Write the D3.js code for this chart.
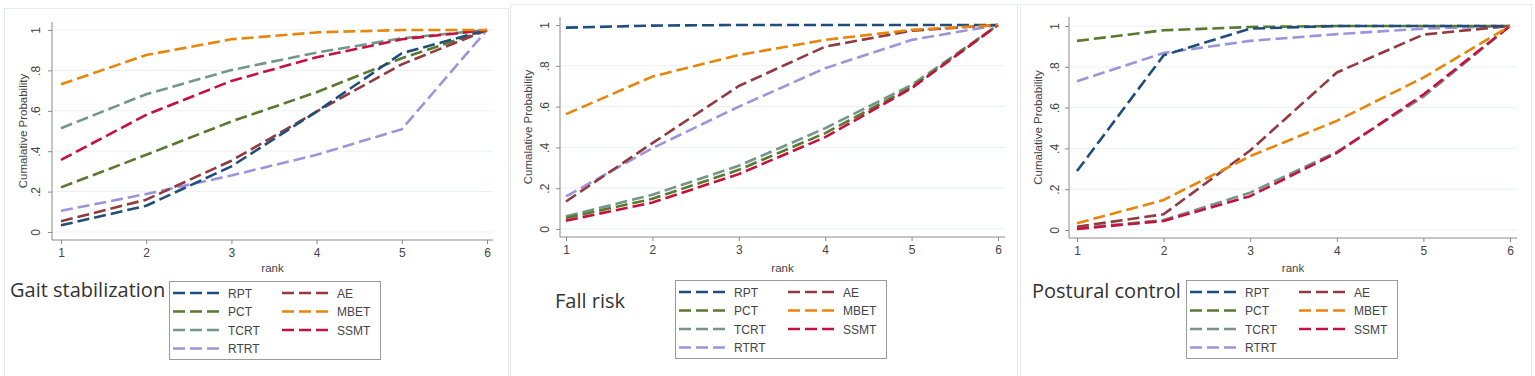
<!DOCTYPE html>
<html>
<head>
<meta charset="utf-8">
<script src="https://cdn.jsdelivr.net/npm/d3@7"></script>
<style>
  html, body { margin: 0; padding: 0; background: #ffffff; }
  svg { display: block; }
</style>
</head>
<body>
<svg id="chart" width="1535" height="376"></svg>
<script>
// ---------- DATA ----------
const ranks = [1, 2, 3, 4, 5, 6];
const yTicks = [0, 0.2, 0.4, 0.6, 0.8, 1];
const yTickLabels = ["0", ".2", ".4", ".6", ".8", "1"];
const seriesNames = ["RPT", "AE", "PCT", "MBET", "TCRT", "SSMT", "RTRT"];
const seriesColors = ["#1f4e7a", "#93393f", "#58792f", "#e8850a", "#74958a", "#c8103d", "#9c95dc"];
const panelTitles = ["Gait stabilization", "Fall risk", "Postural control"];
const yAxisTitle = "Cumalative Probability";
const xAxisTitle = "rank";

// Gait stabilization
const gaitRPT  = [0.033, 0.13, 0.325, 0.596, 0.885, 1];
const gaitAE   = [0.053, 0.16, 0.353, 0.596, 0.83, 1];
const gaitPCT  = [0.221, 0.382, 0.547, 0.692, 0.86, 1];
const gaitMBET = [0.731, 0.876, 0.954, 0.988, 1, 1];
const gaitTCRT = [0.514, 0.682, 0.802, 0.888, 0.959, 1];
const gaitSSMT = [0.357, 0.58, 0.748, 0.865, 0.954, 1];
const gaitRTRT = [0.105, 0.188, 0.28, 0.382, 0.509, 1];

// Fall risk
const fallRPT  = [0.987, 0.997, 1, 1, 1, 1];
const fallAE   = [0.135, 0.421, 0.701, 0.894, 0.972, 1];
const fallPCT  = [0.054, 0.148, 0.29, 0.47, 0.695, 1];
const fallMBET = [0.563, 0.747, 0.853, 0.927, 0.976, 1];
const fallTCRT = [0.062, 0.168, 0.31, 0.494, 0.706, 1];
const fallSSMT = [0.041, 0.13, 0.269, 0.45, 0.69, 1];
const fallRTRT = [0.16, 0.396, 0.6, 0.788, 0.927, 1];

// Postural control
const postRPT  = [0.289, 0.856, 0.987, 1, 1, 1];
const postAE   = [0.016, 0.077, 0.39, 0.772, 0.958, 1];
const postPCT  = [0.927, 0.979, 0.995, 1, 1, 1];
const postMBET = [0.033, 0.147, 0.362, 0.535, 0.747, 1];
const postTCRT = [0.008, 0.049, 0.183, 0.383, 0.653, 1];
const postSSMT = [0.005, 0.044, 0.166, 0.378, 0.664, 1];
const postRTRT = [0.729, 0.868, 0.927, 0.96, 0.987, 1];

const panelSeries = [
  [gaitRPT, gaitAE, gaitPCT, gaitMBET, gaitTCRT, gaitSSMT, gaitRTRT],
  [fallRPT, fallAE, fallPCT, fallMBET, fallTCRT, fallSSMT, fallRTRT],
  [postRPT, postAE, postPCT, postMBET, postTCRT, postSSMT, postRTRT]
];

// ---------- LAYOUT ----------
const layouts = [
  { box: [4, 8, 504, 368], axisX: 52, axisTop: 22, axisBottom: 240, axisRight: 493,
    xr: [61, 487], yr: [232, 30], yTitleX: 27, yTickX: 40,
    title: [10, 297], legend: [169, 281] },
  { box: [510, 4, 507, 372], axisX: 560, axisTop: 17, axisBottom: 237, axisRight: 1005,
    xr: [566, 998], yr: [229, 25], yTitleX: 532, yTickX: 549,
    title: [555, 308], legend: [675, 280] },
  { box: [1020, 4, 511, 372], axisX: 1069, axisTop: 17, axisBottom: 238, axisRight: 1517,
    xr: [1077, 1510], yr: [230, 26], yTitleX: 1042, yTickX: 1059,
    title: [1032, 298], legend: [1186, 280] }
];

const svg = d3.select("#chart");
const tickFont = "'Liberation Sans', Arial, sans-serif";
const axisColor = "#8a8a8a";
const dash = "12,5";

layouts.forEach((L, pi) => {
  const g = svg.append("g");
  // panel frame
  g.append("rect")
    .attr("x", L.box[0] + 0.5).attr("y", L.box[1] + 0.5)
    .attr("width", L.box[2]).attr("height", L.box[3])
    .attr("fill", "#ffffff").attr("stroke", "#e6eaec").attr("stroke-width", 1);

  const x = d3.scaleLinear().domain([1, 6]).range(L.xr);
  const y = d3.scaleLinear().domain([0, 1]).range(L.yr);

  // gridlines
  g.append("g").selectAll("line").data(yTicks).join("line")
    .attr("x1", L.axisX).attr("x2", L.axisRight)
    .attr("y1", d => y(d)).attr("y2", d => y(d))
    .attr("stroke", "#eaf1f3").attr("stroke-width", 1);

  // y axis
  const yAxis = d3.axisLeft(y).tickValues(yTicks).tickFormat((d, i) => yTickLabels[i]).tickSize(4).tickPadding(3);
  const ya = g.append("g").attr("transform", `translate(${L.axisX},0)`).call(yAxis);
  ya.select(".domain").attr("d", `M0,${L.axisTop}V${L.axisBottom}`).attr("stroke", axisColor);
  ya.selectAll(".tick line").attr("stroke", axisColor);
  ya.selectAll(".tick text")
    .attr("x", null).attr("dy", null)
    .attr("transform", `translate(${L.yTickX - L.axisX},0) rotate(-90)`)
    .attr("text-anchor", "middle")
    .attr("font-family", tickFont).attr("font-size", 12).attr("fill", "#444");

  // x axis
  const xAxis = d3.axisBottom(x).tickValues(ranks).tickFormat(d3.format("d")).tickSize(4).tickPadding(4);
  const xa = g.append("g").attr("transform", `translate(0,${L.axisBottom})`).call(xAxis);
  xa.select(".domain").attr("d", `M${L.axisX},0H${L.axisRight}`).attr("stroke", axisColor);
  xa.selectAll(".tick line").attr("stroke", axisColor);
  xa.selectAll(".tick text").attr("font-family", tickFont).attr("font-size", 12).attr("fill", "#444");

  // axis titles
  g.append("text")
    .attr("transform", `translate(${L.yTitleX},${(L.axisTop + L.axisBottom) / 2}) rotate(-90)`)
    .attr("text-anchor", "middle")
    .attr("font-family", tickFont).attr("font-size", 11.5).attr("fill", "#444")
    .text(yAxisTitle);
  g.append("text")
    .attr("x", (L.axisX + L.axisRight) / 2).attr("y", 272)
    .attr("text-anchor", "middle")
    .attr("font-family", tickFont).attr("font-size", 11.5).attr("fill", "#444")
    .text(xAxisTitle);

  // lines
  const line = d3.line().x((d, i) => x(ranks[i])).y(d => y(d));
  const drawOrder = [6, 4, 2, 1, 0, 5, 3].reverse();
  g.append("g").selectAll("path").data(drawOrder.map(si => ({ si, vals: panelSeries[pi][si] })).reverse())
    .join("path")
    .attr("d", d => line(d.vals))
    .attr("fill", "none")
    .attr("stroke", d => seriesColors[d.si])
    .attr("stroke-width", 2.6)
    .attr("stroke-dasharray", dash)
    .attr("stroke-linejoin", "round");

  // panel title
  g.append("text")
    .attr("x", L.title[0]).attr("y", L.title[1])
    .attr("font-family", "'Open Sans', 'Noto Sans', sans-serif").attr("font-size", 20).attr("fill", "#333")
    .text(panelTitles[pi]);

  // legend
  const lg = g.append("g").attr("transform", `translate(${L.legend[0]},${L.legend[1]})`);
  lg.append("rect").attr("x", 0.5).attr("y", 0.5).attr("width", 211).attr("height", 78)
    .attr("fill", "#fff").attr("stroke", "#9a9a9a").attr("stroke-width", 1);
  seriesNames.forEach((name, si) => {
    const col = si % 2, row = Math.floor(si / 2);
    const lx = col === 0 ? 4 : 113;
    const ly = 12 + row * 18.5;
    lg.append("line").attr("x1", lx).attr("x2", lx + 48).attr("y1", ly).attr("y2", ly)
      .attr("stroke", seriesColors[si]).attr("stroke-width", 2.6).attr("stroke-dasharray", dash)
      .attr("stroke-dashoffset", 0);
    lg.append("text").attr("x", lx + 55).attr("y", ly + 4.5)
      .attr("font-family", tickFont).attr("font-size", 12).attr("fill", "#444")
      .text(name);
  });
});
</script>
</body>
</html>
